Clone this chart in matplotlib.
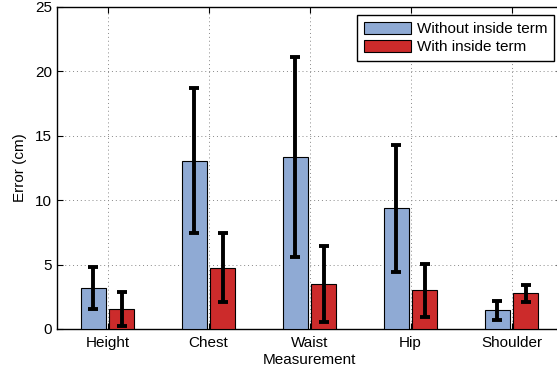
import matplotlib
matplotlib.use("Agg")
import matplotlib.pyplot as plt
import numpy as np

plt.rcParams['font.family'] = ['Liberation Sans', 'DejaVu Sans']

categories = ["Height", "Chest", "Waist", "Hip", "Shoulder"]
without_vals = [3.16, 13.07, 13.35, 9.37, 1.45]
without_err = [1.62, 5.64, 7.74, 4.92, 0.76]
with_vals = [1.53, 4.76, 3.49, 3.00, 2.77]
with_err = [1.33, 2.67, 2.93, 2.04, 0.64]
series_labels = ["Without inside term", "With inside term"]

fig = plt.figure(figsize=(5.57, 3.71), dpi=100)
ax = fig.add_axes([57/557, 1-329/371, 505/557, (329-7)/371])

x = np.arange(1, len(categories) + 1)
w = 0.25
off = 0.14
ekw = dict(ecolor='black', elinewidth=2.8, capsize=3.5, capthick=2.8)
ax.bar(x - off, without_vals, w, color='#8FAAD4', edgecolor='black', linewidth=0.8,
       label=series_labels[0], zorder=3)
ax.bar(x + off, with_vals, w, color='#CC2B2B', edgecolor='black', linewidth=0.8,
       label=series_labels[1], zorder=3)
ax.errorbar(x - off, without_vals, yerr=without_err, fmt='none', zorder=4, **ekw)
ax.errorbar(x + off, with_vals, yerr=with_err, fmt='none', zorder=4, **ekw)

fs = 11
ax.set_xlim(0.5, 5.5)
ax.set_ylim(0, 25)
ax.set_xticks(x)
ax.set_xticklabels(categories)
ax.set_yticks([0, 5, 10, 15, 20, 25])
ax.tick_params(direction='in', labelsize=fs, length=4, top=True, right=True)
ax.tick_params(axis='x', pad=5)
ax.grid(True, linestyle=(0, (1, 3)), color='#888888', linewidth=0.7, zorder=0)
ax.set_axisbelow(True)
ax.set_xlabel("Measurement", fontsize=fs, labelpad=2)
ax.set_ylabel("Error (cm)", fontsize=fs, labelpad=6)
for s in ax.spines.values():
    s.set_linewidth(1.0)

leg = ax.legend(loc='upper right', fontsize=fs, fancybox=False, framealpha=1, edgecolor='black',
                handlelength=3.1, handleheight=0.85, borderpad=0.45, labelspacing=0.25,
                handletextpad=0.35, borderaxespad=0)
leg.set_bbox_to_anchor((554/557, 1-14.7/371), transform=fig.transFigure)
leg.get_frame().set_linewidth(1.0)

fig.savefig("out.png", dpi=100)
